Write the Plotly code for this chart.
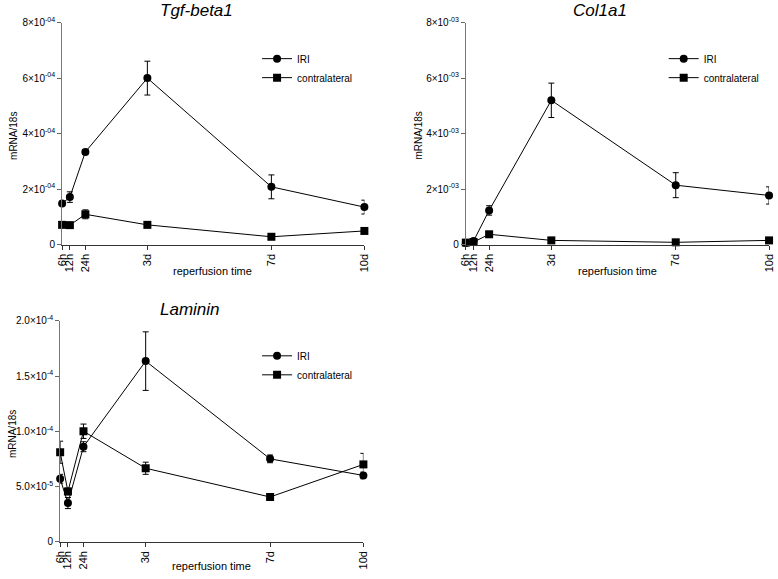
import plotly.graph_objects as go

# x positions in hours; tick labels as on the original
hours = [6, 12, 24, 72, 168, 240]
time_labels = ['6h', '12h', '24h', '3d', '7d', '10d']

# Tgf-beta1
tgf_iri = [1.48e-4, 1.71e-4, 3.34e-4, 6.0e-4, 2.08e-4, 1.35e-4]
tgf_iri_err = [0.06e-4, 0.19e-4, 0.08e-4, 0.61e-4, 0.43e-4, 0.25e-4]
tgf_con = [0.71e-4, 0.70e-4, 1.09e-4, 0.71e-4, 0.28e-4, 0.49e-4]
tgf_con_err = [0.05e-4, 0.08e-4, 0.16e-4, 0.04e-4, 0.03e-4, 0.03e-4]

# Col1a1
col_iri = [0.06e-3, 0.13e-3, 1.23e-3, 5.2e-3, 2.14e-3, 1.77e-3]
col_iri_err = [0.02e-3, 0.03e-3, 0.17e-3, 0.62e-3, 0.45e-3, 0.31e-3]
col_con = [0.07e-3, 0.09e-3, 0.37e-3, 0.15e-3, 0.08e-3, 0.15e-3]
col_con_err = [0.02e-3, 0.02e-3, 0.04e-3, 0.02e-3, 0.02e-3, 0.02e-3]

# Laminin
lam_iri = [0.57e-4, 0.35e-4, 0.86e-4, 1.635e-4, 0.75e-4, 0.60e-4]
lam_iri_err = [0.04e-4, 0.05e-4, 0.045e-4, 0.265e-4, 0.035e-4, 0.03e-4]
lam_con = [0.81e-4, 0.455e-4, 1.0e-4, 0.665e-4, 0.405e-4, 0.70e-4]
lam_con_err = [0.10e-4, 0.03e-4, 0.065e-4, 0.055e-4, 0.01e-4, 0.10e-4]

tgf_ticks = [0, 2e-4, 4e-4, 6e-4, 8e-4]
tgf_ticktext = ['0', '2×10<sup>-04</sup>', '4×10<sup>-04</sup>', '6×10<sup>-04</sup>', '8×10<sup>-04</sup>']
col_ticks = [0, 2e-3, 4e-3, 6e-3, 8e-3]
col_ticktext = ['0', '2×10<sup>-03</sup>', '4×10<sup>-03</sup>', '6×10<sup>-03</sup>', '8×10<sup>-03</sup>']
lam_ticks = [0, 0.5e-4, 1.0e-4, 1.5e-4, 2.0e-4]
lam_ticktext = ['0', '5.0×10<sup>-5</sup>', '1.0×10<sup>-4</sup>', '1.5×10<sup>-4</sup>', '2.0×10<sup>-4</sup>']

panels = [
    ('Tgf-beta1', tgf_iri, tgf_iri_err, tgf_con, tgf_con_err, tgf_ticks, tgf_ticktext),
    ('Col1a1', col_iri, col_iri_err, col_con, col_con_err, col_ticks, col_ticktext),
    ('Laminin', lam_iri, lam_iri_err, lam_con, lam_con_err, lam_ticks, lam_ticktext),
]

W, H = 778, 579
# plot areas in pixels: left, right, top, bottom
boxes = [(57, 364, 16, 243), (467, 775, 16, 243), (55, 363, 321, 547)]
legend_pos = [(255, 38), (668, 38), (255, 342)]
title_pos = [(193, 15), (603, 15), (187, 321)]
xtitle_pos = [(210, 270), (621, 270), (209, 572)]
ytitle_pos = [(7, 132), (418, 132), (6, 437)]

fig = go.Figure()
layout = dict(
    width=W, height=H,
    margin=dict(l=0, r=0, t=0, b=0),
    paper_bgcolor='white', plot_bgcolor='white',
    font=dict(family='Liberation Sans, Arial', size=10, color='black'),
    annotations=[],
)


def ann(text, px, py, size, angle=0, yanchor='middle'):
    return dict(text=text, xref='paper', yref='paper', x=px / W, y=1 - py / H,
                xanchor='center', yanchor=yanchor, textangle=angle,
                showarrow=False, font=dict(size=size))


for i, (name, iri, iri_err, con, con_err, ticks, ticktext) in enumerate(panels):
    n = '' if i == 0 else str(i + 1)
    leg = 'legend' + n
    xa, ya = 'x' + n, 'y' + n
    fig.add_trace(go.Scatter(
        x=hours, y=iri, name='IRI', mode='lines+markers',
        xaxis=xa, yaxis=ya, legend=leg, cliponaxis=False,
        line=dict(color='black', width=1),
        marker=dict(symbol='circle', size=8, color='black'),
        error_y=dict(type='data', array=iri_err, color='black', thickness=1, width=3),
    ))
    fig.add_trace(go.Scatter(
        x=hours, y=con, name='contralateral', mode='lines+markers',
        xaxis=xa, yaxis=ya, legend=leg, cliponaxis=False,
        line=dict(color='black', width=1),
        marker=dict(symbol='square', size=8, color='black'),
        error_y=dict(type='data', array=con_err, color='black', thickness=1, width=3),
    ))
    l, r, t, b = boxes[i]
    layout['xaxis' + n] = dict(
        domain=[l / W, r / W], anchor=ya, range=[6, 240],
        tickvals=hours, ticktext=time_labels, tickangle=-90,
        ticks='outside', ticklen=4, tickcolor='#333', showline=True, linecolor='#333',
        showgrid=False, zeroline=False, tickfont=dict(size=11),
    )
    layout['yaxis' + n] = dict(
        domain=[1 - b / H, 1 - t / H], anchor=xa, range=[0, ticks[-1]],
        tickvals=ticks, ticktext=ticktext,
        ticks='outside', ticklen=4, tickcolor='#666', showline=True, linecolor='#777',
        showgrid=False, zeroline=False, tickfont=dict(size=10),
    )
    lx, ly = legend_pos[i]
    layout[leg] = dict(
        x=lx / W, y=1 - ly / H, xanchor='left', yanchor='top',
        bgcolor='rgba(0,0,0,0)', font=dict(size=10), itemwidth=30,
        tracegroupgap=0,
    )
    layout['annotations'].append(ann('<i>' + name + '</i>', *title_pos[i], 17, yanchor='bottom'))
    layout['annotations'].append(ann('reperfusion time', *xtitle_pos[i], 11))
    layout['annotations'].append(ann('mRNA/18s', *ytitle_pos[i], 10, angle=-90))

fig.update_layout(**layout)
fig.write_html('out.html', config={'displayModeBar': False},
               post_script="document.body.style.margin='0';")
